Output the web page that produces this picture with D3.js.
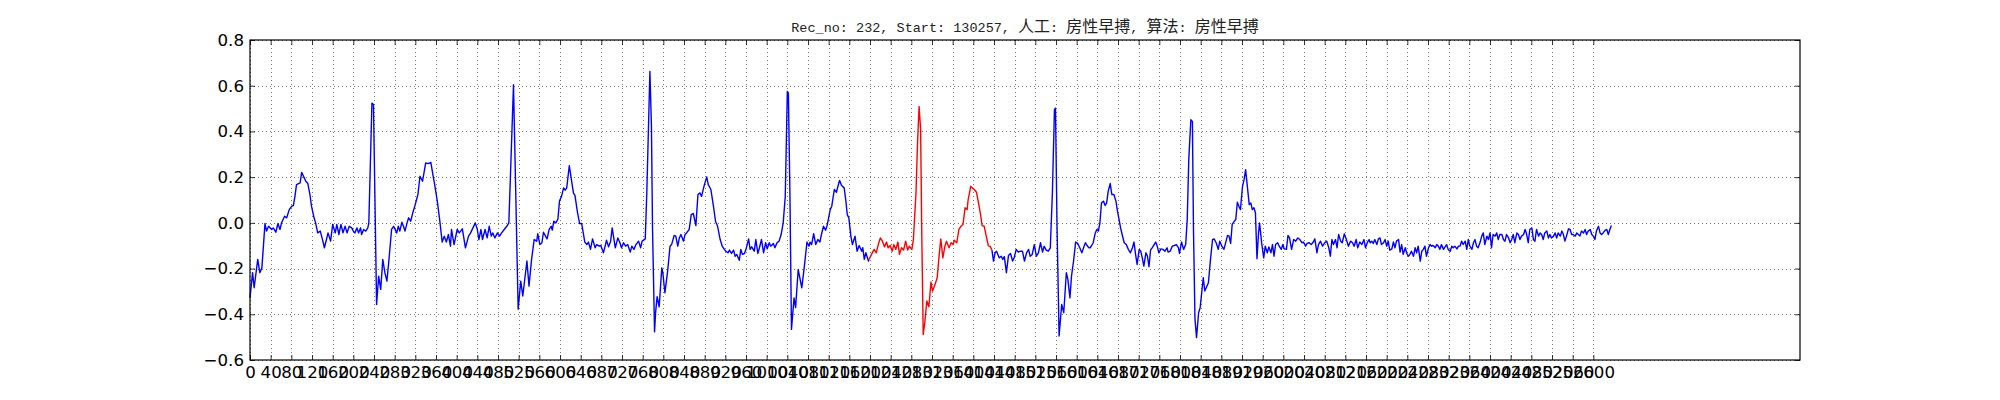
<!DOCTYPE html>
<html><head><meta charset="utf-8">
<script src="https://cdn.jsdelivr.net/npm/d3@7"></script>
<style>body{margin:0;background:#fff}</style>
</head><body><svg id="chart" width="2000" height="400"></svg>
<script>
const chartTitle = "Rec_no: 232, Start: 130257, 人工: 房性早搏, 算法: 房性早搏";
const xTickValues = [0,40,80,120,160,200,240,280,320,360,400,440,480,520,560,600,640,680,720,760,800,840,880,920,960,1000,1040,1080,1120,1160,1200,1240,1280,1320,1360,1400,1440,1480,1520,1560,1600,1640,1680,1720,1760,1800,1840,1880,1920,1960,2000,2040,2080,2120,2160,2200,2240,2280,2320,2360,2400,2440,2480,2520,2560,2600];
const yTickValues = [-0.6,-0.4,-0.2,0.0,0.2,0.4,0.6,0.8];
const xDomain = [0, 3000];
const yDomain = [-0.6, 0.8];

// ECG trace before the marked beat: [sample, amplitude]
const traceBefore = [[0,-0.328],[5,-0.218],[8,-0.284],[15,-0.160],[19,-0.218],[23,-0.197],[29,-0.003],[32,-0.036],[36,-0.015],[42,-0.029],[45,-0.022],[50,-0.041],[54,-0.003],[58,-0.029],[61,0.000],[67,0.029],[71,0.022],[76,0.058],[81,0.073],[84,0.076],[87,0.116],[90,0.167],[97,0.175],[100,0.221],[105,0.197],[108,0.182],[112,0.172],[116,0.124],[119,0.073],[124,0.022],[127,0.000],[131,-0.044],[136,-0.036],[141,-0.080],[144,-0.109],[148,-0.073],[151,-0.044],[156,-0.080],[160,-0.007],[165,-0.044],[168,-0.007],[172,-0.051],[176,-0.007],[180,-0.044],[184,-0.015],[188,-0.044],[192,-0.015],[197,-0.022],[200,-0.036],[203,-0.044],[207,-0.022],[210,-0.044],[214,-0.022],[216,-0.051],[220,-0.029],[224,-0.036],[228,-0.022],[230,0.000],[236,0.524],[239,0.517],[245,-0.357],[249,-0.233],[253,-0.291],[257,-0.160],[261,-0.218],[265,-0.255],[269,-0.160],[274,-0.029],[278,-0.015],[284,-0.044],[287,-0.015],[290,-0.036],[294,0.003],[297,-0.015],[300,-0.036],[304,0.000],[307,0.022],[311,0.007],[315,0.044],[319,0.073],[325,0.124],[329,0.204],[334,0.182],[340,0.262],[345,0.259],[350,0.265],[354,0.211],[358,0.160],[363,0.087],[367,0.015],[372,-0.084],[376,-0.058],[380,-0.084],[384,-0.051],[388,-0.102],[390,-0.029],[395,-0.095],[401,-0.029],[405,-0.044],[411,-0.026],[417,-0.109],[423,-0.058],[427,-0.044],[436,0.000],[440,-0.029],[443,-0.073],[447,-0.029],[450,-0.073],[455,-0.029],[459,-0.066],[463,-0.015],[467,-0.058],[470,-0.044],[474,-0.066],[479,-0.044],[483,-0.058],[487,-0.044],[492,-0.029],[497,-0.015],[501,0.000],[510,0.604],[519,-0.378],[524,-0.255],[528,-0.320],[536,-0.167],[540,-0.277],
[545,-0.160],[550,-0.073],[555,-0.080],[557,-0.047],[561,-0.095],[565,-0.087],[568,-0.041],[572,-0.058],[575,-0.070],[579,-0.029],[583,-0.015],[585,-0.032],[588,0.007],[592,0.000],[596,0.017],[599,0.095],[603,0.116],[607,0.153],[610,0.143],[613,0.153],[618,0.250],[623,0.175],[626,0.131],[629,0.119],[634,0.044],[638,-0.003],[642,-0.003],[645,-0.044],[648,-0.084],[652,-0.095],[655,-0.084],[659,-0.116],[663,-0.070],[668,-0.109],[671,-0.095],[676,-0.102],[679,-0.099],[684,-0.131],[687,-0.105],[690,-0.076],[694,-0.105],[698,-0.080],[701,-0.022],[704,-0.066],[707,-0.109],[712,-0.066],[716,-0.087],[719,-0.109],[723,-0.087],[727,-0.102],[731,-0.095],[736,-0.128],[739,-0.102],[743,-0.116],[747,-0.095],[752,-0.080],[756,-0.109],[759,-0.080],[765,-0.070],[768,0.131],[774,0.662],[777,0.422],[779,-0.015],[783,-0.477],[785,-0.393],[788,-0.323],[792,-0.367],[797,-0.197],[799,-0.218],[803,-0.306],[808,-0.218],[813,-0.102],[816,-0.095],[821,-0.055],[824,-0.058],[828,-0.102],[831,-0.066],[834,-0.051],[839,-0.080],[842,-0.051],[845,-0.044],[850,-0.029],[854,0.036],[858,0.041],[863,-0.012],[867,0.124],[871,0.131],[874,0.116],[879,0.163],[884,0.201],[887,0.167],[892,0.146],[897,0.073],[901,0.007],[905,-0.015],[910,-0.073],[914,-0.102],[918,-0.116],[921,-0.124],[925,-0.131],[928,-0.119],[932,-0.134],[936,-0.119],[939,-0.146],[942,-0.138],[947,-0.164],[950,-0.116],[953,-0.138],[957,-0.134],[960,-0.116],[965,-0.070],[968,-0.116],[971,-0.105],[976,-0.124],[979,-0.073],[983,-0.134],[986,-0.109],[990,-0.073],[994,-0.131],[998,-0.087],[1001,-0.114],[1005,-0.087],[1008,-0.102],[1013,-0.090],[1016,-0.109],[1020,-0.087],[1024,-0.080],[1028,-0.051],[1032,0.000],[1036,0.116],[1040,0.575],[1042,0.568],[1045,0.131],[1048,-0.466],[1053,-0.328],[1056,-0.371],[1061,-0.204],[1068,-0.284],[1073,-0.189],[1078,-0.084],[1082,-0.102],
[1084,-0.084],[1087,-0.095],[1091,-0.047],[1095,-0.095],[1099,-0.073],[1103,-0.084],[1106,-0.051],[1110,-0.015],[1114,-0.032],[1117,-0.012],[1123,0.058],[1126,0.073],[1131,0.146],[1135,0.134],[1141,0.186],[1145,0.163],[1150,0.153],[1153,0.102],[1156,0.036],[1159,0.022],[1163,-0.058],[1166,-0.095],[1171,-0.058],[1175,-0.124],[1179,-0.099],[1184,-0.124],[1186,-0.109],[1189,-0.160],[1192,-0.131],[1197,-0.167],[1198,-0.160]];

// Marked (highlighted) beat
const traceMarked = [[1198,-0.160],[1203,-0.138],[1208,-0.116],[1212,-0.131],[1216,-0.095],[1220,-0.066],[1224,-0.080],[1228,-0.105],[1232,-0.084],[1235,-0.109],[1239,-0.099],[1243,-0.124],[1246,-0.095],[1250,-0.116],[1254,-0.084],[1257,-0.138],[1261,-0.109],[1265,-0.119],[1269,-0.080],[1273,-0.119],[1276,-0.102],[1281,-0.116],[1284,-0.073],[1289,0.131],[1292,0.349],[1295,0.509],[1298,0.408],[1300,-0.015],[1303,-0.488],[1306,-0.437],[1310,-0.342],[1314,-0.367],[1318,-0.259],[1321,-0.298],[1326,-0.269],[1330,-0.240],[1334,-0.138],[1337,-0.070],[1341,-0.153],[1345,-0.102],[1348,-0.080],[1353,-0.109],[1357,-0.087],[1361,-0.095],[1363,-0.076],[1368,-0.087],[1372,-0.029],[1376,-0.015],[1380,-0.007],[1384,0.066],[1388,0.058],[1390,0.102],[1395,0.160],[1398,0.153],[1402,0.146],[1406,0.134],[1410,0.087],[1414,0.036],[1417,-0.012],[1421,-0.015],[1425,-0.058],[1429,-0.099],[1433,-0.105],[1436,-0.119]];

// ECG trace after the marked beat
const traceAfter = [[1436,-0.119],[1439,-0.167],[1442,-0.131],[1445,-0.124],[1450,-0.153],[1454,-0.146],[1457,-0.160],[1460,-0.148],[1464,-0.218],[1468,-0.143],[1472,-0.134],[1476,-0.167],[1479,-0.153],[1483,-0.116],[1487,-0.128],[1491,-0.124],[1495,-0.124],[1499,-0.167],[1503,-0.131],[1507,-0.116],[1510,-0.146],[1514,-0.138],[1518,-0.095],[1522,-0.146],[1526,-0.131],[1530,-0.087],[1534,-0.128],[1537,-0.102],[1541,-0.119],[1545,-0.124],[1549,-0.109],[1553,0.131],[1557,0.495],[1559,0.502],[1562,-0.015],[1566,-0.495],[1571,-0.357],[1575,-0.393],[1580,-0.218],[1583,-0.247],[1587,-0.328],[1590,-0.233],[1594,-0.167],[1598,-0.084],[1602,-0.090],[1606,-0.109],[1610,-0.131],[1614,-0.105],[1617,-0.087],[1621,-0.102],[1624,-0.109],
[1626,-0.109],[1629,-0.099],[1632,-0.087],[1636,-0.044],[1639,-0.029],[1642,-0.036],[1645,0.000],[1648,0.087],[1652,0.095],[1655,0.076],[1658,0.087],[1661,0.138],[1665,0.172],[1668,0.124],[1672,0.124],[1676,0.095],[1679,0.051],[1682,0.015],[1685,-0.022],[1688,-0.051],[1692,-0.087],[1696,-0.095],[1700,-0.116],[1704,-0.131],[1708,-0.109],[1711,-0.084],[1714,-0.138],[1717,-0.182],[1721,-0.116],[1724,-0.124],[1727,-0.153],[1730,-0.189],[1734,-0.131],[1737,-0.146],[1740,-0.192],[1743,-0.119],[1746,-0.109],[1750,-0.095],[1753,-0.084],[1756,-0.102],[1759,-0.131],[1763,-0.114],[1767,-0.116],[1771,-0.124],[1775,-0.109],[1777,-0.128],[1781,-0.124],[1785,-0.102],[1789,-0.099],[1793,-0.095],[1797,-0.109],[1799,-0.134],[1803,-0.084],[1807,-0.116],[1811,-0.095],[1814,0.015],[1817,0.277],[1821,0.451],[1824,0.444],[1826,-0.015],[1829,-0.422],[1832,-0.502],[1836,-0.393],[1839,-0.371],[1842,-0.306],[1845,-0.240],[1848,-0.298],[1852,-0.277],[1855,-0.262],[1859,-0.160],[1863,-0.073],[1866,-0.070],[1870,-0.087],[1874,-0.116],[1877,-0.080],[1881,-0.102],[1885,-0.116],[1888,-0.090],[1892,-0.055],[1895,-0.058],[1898,-0.090],[1901,-0.007],[1905,0.007],[1908,0.015],[1911,0.090],[1914,0.073],[1917,0.058],[1921,0.160],[1924,0.189],[1927,0.233],[1930,0.167],[1934,0.080],[1937,0.087],[1940,0.058],[1943,0.066],[1946,0.044],[1949,-0.157],[1952,-0.044],[1954,0.000],[1958,-0.087],[1962,-0.153],[1965,-0.102],[1969,-0.131],[1972,-0.105],[1976,-0.131],[1979,-0.095],[1982,-0.146],[1985,-0.095],[1989,-0.087],[1992,-0.102],[1996,-0.116],[1999,-0.095],[2002,-0.114],[2006,-0.116],[2009,-0.055],[2012,-0.066],[2016,-0.116],[2020,-0.073],[2024,-0.080],[2028,-0.066],[2032,-0.073],[2036,-0.087],[2039,-0.084],[2043,-0.102],[2046,-0.090],[2050,-0.087],[2054,-0.095],[2058,-0.084],[2061,-0.070],[2065,-0.131],[2068,-0.095],[2072,-0.080],[2076,-0.102],[2080,-0.087],[2084,-0.080],[2088,-0.109],[2091,-0.146],[2094,-0.073],[2097,-0.095],[2101,-0.073],[2104,-0.109],[2107,-0.051],[2111,-0.080],[2114,-0.087],[2118,-0.048],[2122,-0.073],[2126,-0.102],[2130,-0.080],[2134,-0.087],[2137,-0.102],[2141,-0.073],[2144,-0.109],[2148,-0.084],[2152,-0.095],[2156,-0.073],[2159,-0.109],[2163,-0.084],[2166,-0.073],
[2168,-0.087],[2171,-0.080],[2174,-0.090],[2177,-0.073],[2181,-0.095],[2184,-0.070],[2187,-0.066],[2190,-0.095],[2194,-0.087],[2197,-0.073],[2200,-0.102],[2203,-0.080],[2206,-0.119],[2210,-0.114],[2213,-0.084],[2216,-0.109],[2219,-0.080],[2223,-0.073],[2226,-0.128],[2229,-0.095],[2232,-0.138],[2236,-0.109],[2239,-0.134],[2242,-0.146],[2245,-0.138],[2248,-0.124],[2252,-0.146],[2255,-0.109],[2258,-0.131],[2261,-0.102],[2265,-0.167],[2268,-0.124],[2271,-0.116],[2274,-0.102],[2277,-0.146],[2281,-0.109],[2284,-0.095],[2287,-0.102],[2290,-0.099],[2294,-0.109],[2297,-0.095],[2300,-0.102],[2303,-0.116],[2306,-0.095],[2310,-0.116],[2313,-0.105],[2316,-0.095],[2319,-0.116],[2323,-0.124],[2326,-0.102],[2329,-0.109],[2332,-0.102],[2336,-0.114],[2339,-0.102],[2342,-0.102],[2345,-0.080],[2348,-0.095],[2352,-0.080],[2355,-0.116],[2358,-0.073],[2361,-0.102],[2365,-0.116],[2368,-0.087],[2371,-0.073],[2374,-0.102],[2377,-0.109],[2381,-0.084],[2384,-0.058],[2387,-0.044],[2390,-0.095],[2394,-0.058],[2397,-0.073],[2400,-0.044],[2403,-0.109],[2406,-0.051],[2410,-0.058],[2413,-0.044],[2416,-0.073],[2419,-0.051],[2423,-0.051],[2426,-0.073],[2429,-0.080],[2432,-0.051],[2436,-0.066],[2439,-0.087],[2442,-0.073],[2445,-0.051],[2448,-0.087],[2452,-0.044],[2455,-0.051],[2458,-0.073],[2461,-0.058],[2465,-0.051],[2468,-0.029],[2471,-0.051],[2474,-0.087],[2477,-0.029],[2481,-0.022],[2484,-0.073],[2487,-0.080],[2490,-0.029],[2494,-0.058],[2497,-0.044],[2500,-0.051],[2503,-0.073],[2506,-0.044],[2510,-0.036],[2513,-0.066],[2516,-0.051],[2519,-0.066],[2523,-0.058],[2526,-0.044],[2529,-0.066],[2532,-0.044],[2536,-0.058],[2539,-0.036],[2542,-0.051],[2545,-0.080],[2548,-0.058],[2552,-0.026],[2555,-0.029],[2558,-0.051],[2561,-0.051],[2565,-0.058],[2568,-0.044],[2571,-0.051],[2574,-0.058],[2577,-0.036],[2581,-0.044],[2584,-0.029],[2587,-0.051],[2590,-0.036],[2594,-0.029],[2597,-0.051],[2600,-0.058],[2603,-0.073],[2606,-0.036],[2610,-0.015],[2613,-0.044],[2616,-0.051],[2619,-0.044],[2623,-0.032],[2626,-0.029],[2629,-0.051],[2632,-0.029],[2635,-0.012]];

const normalColor = "#0000ff";
const markedColor = "#ff0000";

const svg = d3.select("#chart");
const plot = {left: 250, right: 1800, top: 40, bottom: 360};
const x = d3.scaleLinear().domain(xDomain).range([plot.left, plot.right]);
const y = d3.scaleLinear().domain(yDomain).range([plot.bottom, plot.top]);
const tickLen = 5;
const labelFont = "'DejaVu Sans', sans-serif";
const labelSize = "16.67px";

svg.append("rect").attr("width", 2000).attr("height", 400).attr("fill", "#fff");

// grid
const grid = svg.append("g").attr("stroke", "#000").attr("stroke-width", 0.6)
  .attr("stroke-dasharray", "1,3").attr("opacity", 0.9);
grid.selectAll("line.gx").data(xTickValues).join("line").attr("class", "gx")
  .attr("x1", d => Math.round(x(d)) + 0.5).attr("x2", d => Math.round(x(d)) + 0.5)
  .attr("y1", plot.top).attr("y2", plot.bottom);
grid.selectAll("line.gy").data(yTickValues).join("line").attr("class", "gy")
  .attr("y1", d => Math.round(y(d)) + 0.5).attr("y2", d => Math.round(y(d)) + 0.5)
  .attr("x1", plot.left).attr("x2", plot.right);

// traces
const line = d3.line().x(d => x(d[0])).y(d => y(d[1]));
[[traceBefore, normalColor], [traceAfter, normalColor], [traceMarked, markedColor]].forEach(([data, color]) => {
  svg.append("path").datum(data).attr("d", line).attr("fill", "none")
    .attr("stroke", color).attr("stroke-width", 1.4).attr("stroke-linejoin", "round");
});

// axes
const fmt = d3.format(".1f");
function styleAxis(g) {
  g.select(".domain").remove();
  g.selectAll(".tick line").attr("stroke", "#000").attr("stroke-width", 0.8);
  g.selectAll("text").attr("font-family", labelFont).attr("font-size", labelSize).attr("fill", "#000");
}
svg.append("g").attr("transform", `translate(0,${plot.bottom})`)
  .call(d3.axisBottom(x).tickValues(xTickValues).tickFormat(d3.format("d")).tickSizeInner(-tickLen).tickSizeOuter(0).tickPadding(6))
  .call(styleAxis);
svg.append("g").attr("transform", `translate(0,${plot.top})`)
  .call(d3.axisTop(x).tickValues(xTickValues).tickFormat("").tickSizeInner(-tickLen).tickSizeOuter(0))
  .call(styleAxis);
svg.append("g").attr("transform", `translate(${plot.left},0)`)
  .call(d3.axisLeft(y).tickValues(yTickValues).tickFormat(fmt).tickSizeInner(-tickLen).tickSizeOuter(0).tickPadding(6))
  .call(styleAxis);
svg.append("g").attr("transform", `translate(${plot.right},0)`)
  .call(d3.axisRight(y).tickValues(yTickValues).tickFormat("").tickSizeInner(-tickLen).tickSizeOuter(0))
  .call(styleAxis);

// frame
svg.append("rect").attr("x", plot.left).attr("y", plot.top)
  .attr("width", plot.right - plot.left).attr("height", plot.bottom - plot.top)
  .attr("fill", "none").attr("stroke", "#000").attr("stroke-width", 1.2);

// title: split into CJK / non-CJK runs
const runs = chartTitle.match(/[\u3000-\u9fff\uff00-\uffef]+|[^\u3000-\u9fff\uff00-\uffef]+/g);
const title = svg.append("text").attr("x", (plot.left + plot.right) / 2).attr("y", 32)
  .attr("text-anchor", "middle").style("white-space", "pre").attr("fill", "#222");
runs.forEach(r => {
  const cjk = /[\u3000-\u9fff\uff00-\uffef]/.test(r);
  title.append("tspan").text(r)
    .attr("font-family", cjk ? "'Noto Sans CJK SC', sans-serif" : "'Liberation Mono', 'DejaVu Sans Mono', monospace")
    .attr("font-size", cjk ? "16px" : "13.5px");
});
</script>
</body></html>
